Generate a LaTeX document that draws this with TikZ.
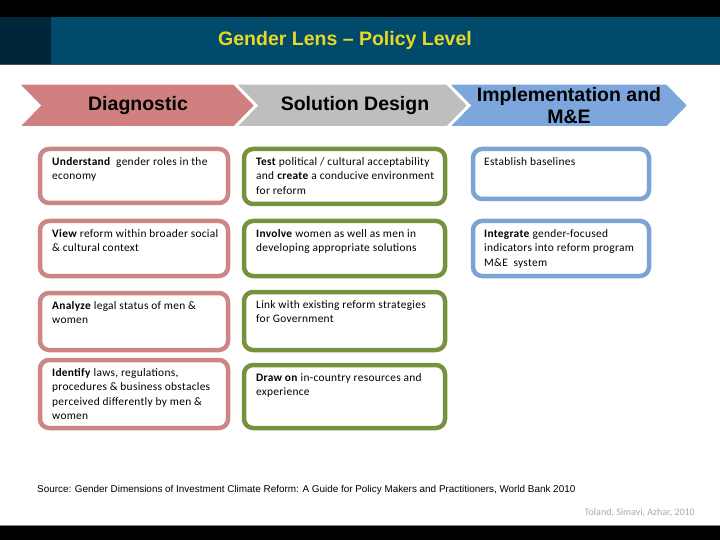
\documentclass[tikz,border=0pt]{standalone}
\usepackage{fontspec}
\setmainfont{Carlito}
\newfontfamily\arialf{Liberation Sans}
\newfontfamily\boxfont[LetterSpace=2.5]{Carlito}
\definecolor{hdrblue}{RGB}{0,75,107}
\definecolor{hdrdark}{RGB}{0,38,58}
\definecolor{titleyel}{RGB}{232,214,40}
\definecolor{chpink}{RGB}{208,128,128}
\definecolor{chgrey}{RGB}{190,190,190}
\definecolor{chblue}{RGB}{125,167,220}
\definecolor{bxpink}{RGB}{205,133,133}
\definecolor{bxgreen}{RGB}{119,146,60}
\definecolor{bxblue}{RGB}{125,163,212}
\definecolor{credgrey}{RGB}{170,170,170}
\tikzset{
  chevtext/.style={font=\arialf\bfseries\fontsize{19.5}{21}\selectfont, align=center, text=black},
  boxtext/.style={anchor=north west, inner sep=0pt, align=left,
    font=\boxfont\fontsize{11.4}{14.5}\selectfont, text=black},
  boxframe/.style={draw=#1, line width=4.5pt, rounded corners=9pt, fill=white}
}
\begin{document}
\begin{tikzpicture}[x=1pt,y=-1pt]
\useasboundingbox (0,0) rectangle (720,540);
\fill[white] (0,0) rectangle (720,540);
% header
\fill[black] (0,0) rectangle (720,17);
\fill[hdrblue] (0,17) rectangle (720,64);
\fill[hdrdark] (0,17) rectangle (51,64);
\draw[black!70, line width=0.6pt] (0,64) -- (720,64);
\node[font=\arialf\bfseries\fontsize{19.5}{21}\selectfont, text=titleyel] (title) at (345,40) {Gender Lens – Policy Level};
% footer
\fill[black] (0,525) rectangle (720,540);
\draw[gray, line width=0.8pt] (0,525) -- (720,525);
% chevrons
\fill[chpink, draw=white, line width=1.5pt] (19,84) -- (234,84) -- (255,105.5) -- (234,127) -- (19,127) -- (40,105.5) -- cycle;
\fill[chgrey, draw=white, line width=1.5pt] (236,84) -- (447,84) -- (468,105.5) -- (447,127) -- (236,127) -- (257,105.5) -- cycle;
\fill[chblue, draw=white, line width=1.5pt] (449,84) -- (667,84) -- (688,105.5) -- (667,127) -- (449,127) -- (470,105.5) -- cycle;
\node[chevtext] (diag) at (138,105.5) {Diagnostic};
\node[chevtext] (sol) at (355,105.5) {Solution Design};
\node[chevtext, font=\arialf\bfseries\fontsize{19.5}{21.5}\selectfont] (impl) at (569,105.5) {Implementation and\\M\&E};
% column 1
\draw[boxframe=bxpink] (40,149) rectangle (228,203);
\node[boxtext] (p1) at (52,157) {\textbf{Understand}\ \ gender roles in the\\economy};
\draw[boxframe=bxpink] (40,221) rectangle (228,276);
\node[boxtext] (p2) at (52,229) {\textbf{View} reform within broader social\\\& cultural context};
\draw[boxframe=bxpink] (40,293) rectangle (228,350);
\node[boxtext] (p3) at (52,301) {\textbf{Analyze} legal status of men \&\\women};
\draw[boxframe=bxpink] (40,360) rectangle (228,428);
\node[boxtext] (p4) at (52,368) {\textbf{Identify} laws, regulations,\\procedures \& business obstacles\\perceived differently by men \&\\women};
% column 2
\draw[boxframe=bxgreen] (244,149) rectangle (445,204);
\node[boxtext] (g1) at (256,157) {\textbf{Test} political / cultural acceptability\\and \textbf{create} a conducive environment\\for reform};
\draw[boxframe=bxgreen] (244,221) rectangle (445,276);
\node[boxtext] (g2) at (256,229) {\textbf{Involve} women as well as men in\\developing appropriate solutions};
\draw[boxframe=bxgreen] (244,292) rectangle (445,350);
\node[boxtext] (g3) at (256,300) {Link with existing reform strategies\\for Government};
\draw[boxframe=bxgreen] (244,365) rectangle (445,428);
\node[boxtext] (g4) at (256,373) {\textbf{Draw on} in-country resources and\\experience};
% column 3
\draw[boxframe=bxblue] (473,149) rectangle (649,199);
\node[boxtext] (b1) at (484,157) {Establish baselines};
\draw[boxframe=bxblue] (473,221) rectangle (649,276);
\node[boxtext] (b2) at (484,229) {\textbf{Integrate} gender-focused\\indicators into reform program\\M\&E\ \ system};
% source
\node[anchor=west, inner sep=0pt, font=\arialf\fontsize{9.9}{11}\selectfont] (src) at (37,490) {Source: Gender Dimensions of Investment Climate Reform: A Guide for Policy Makers and Practitioners, World Bank 2010};
\node[anchor=east, inner sep=0pt, font=\fontsize{10}{11}\selectfont, text=credgrey] (cred) at (695,513) {Toland, Simavi, Azhar, 2010};
\end{tikzpicture}
\end{document}
